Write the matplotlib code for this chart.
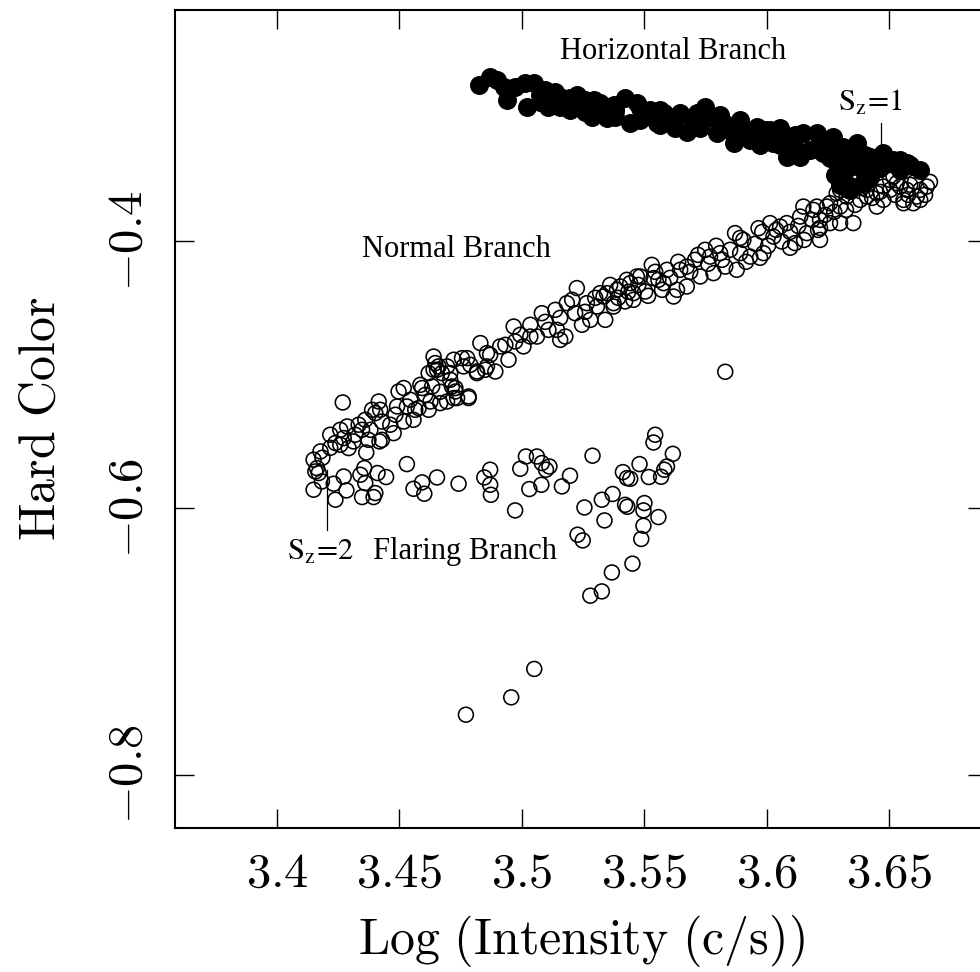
import matplotlib
matplotlib.use("Agg")
import matplotlib.pyplot as plt

plt.rcParams['mathtext.fontset'] = 'cm'

# ---------------- data ----------------
# Horizontal branch (filled circles)
hb_x = [3.4824, 3.4871, 3.4899, 3.4926, 3.4940, 3.4973, 3.5014, 3.5048, 3.5021, 3.5096,
        3.5109, 3.5157, 3.5157, 3.5225, 3.5293, 3.5287, 3.5348, 3.5375, 3.5422, 3.5443,
        3.5470, 3.5524, 3.5552, 3.5579, 3.5647, 3.5674, 3.5701, 3.5715, 3.5769, 3.5824,
        3.5865, 3.5892, 3.5960, 3.6014, 3.6082, 3.6096, 3.6150, 3.6205, 3.6273, 3.6313,
        3.6368, 3.6422, 3.6477, 3.6518, 3.6572, 3.6627, 3.6313, 3.6341, 3.6395, 3.6450,
        3.6504, 3.6368, 3.6422, 3.6395, 3.6232, 3.6177, 3.6137, 3.6028, 3.5933, 3.5797,
        3.5973, 3.5851, 3.6292, 3.6300, 3.6333, 3.5749, 3.5540, 3.5200, 3.5380, 3.5600,
        3.5700, 3.5900, 3.6050, 3.6250, 3.6350, 3.6450, 3.6550,
        3.5076, 3.5076, 3.5137, 3.5137, 3.5198, 3.5198, 3.5259, 3.5259, 3.5320, 3.5320,
        3.5382, 3.5382, 3.5484, 3.5484, 3.5565, 3.5565, 3.5627, 3.5627, 3.5729, 3.5729,
        3.5810, 3.5810, 3.5871, 3.5871, 3.5994, 3.5994, 3.6055, 3.6055, 3.6116, 3.6116,
        3.6218, 3.6218, 3.6259, 3.6259, 3.6341, 3.6341, 3.6402, 3.6402, 3.6463, 3.6463,
        3.6545, 3.6545, 3.6586, 3.6300, 3.6341, 3.6280]
hb_y = [-0.2831, -0.2769, -0.2794, -0.2844, -0.2944, -0.2844, -0.2819, -0.2819, -0.2994, -0.2869,
        -0.2994, -0.2994, -0.2919, -0.2906, -0.2944, -0.3069, -0.3081, -0.2981, -0.2931, -0.3118,
        -0.2969, -0.3019, -0.3118, -0.3043, -0.3043, -0.3181, -0.3094, -0.3043, -0.3069, -0.3118,
        -0.3268, -0.3094, -0.3144, -0.3169, -0.3368, -0.3219, -0.3193, -0.3193, -0.3219, -0.3294,
        -0.3268, -0.3368, -0.3343, -0.3393, -0.3418, -0.3468, -0.3493, -0.3444, -0.3468, -0.3444,
        -0.3418, -0.3368, -0.3518, -0.3568, -0.3343, -0.3318, -0.3368, -0.3268, -0.3243, -0.3193,
        -0.3281, -0.3168, -0.3393, -0.3543, -0.3580, -0.2996, -0.3080, -0.2960, -0.3030, -0.3100,
        -0.3150, -0.3180, -0.3250, -0.3300, -0.3320, -0.3380, -0.3450,
        -0.2906, -0.2959, -0.2884, -0.2981, -0.2929, -0.3019, -0.2944, -0.3034, -0.2966, -0.3041,
        -0.3004, -0.3071, -0.3004, -0.3094, -0.3019, -0.3131, -0.3094, -0.3154, -0.3079, -0.3154,
        -0.3056, -0.3169, -0.3131, -0.3206, -0.3169, -0.3243, -0.3154, -0.3281, -0.3206, -0.3303,
        -0.3243, -0.3318, -0.3281, -0.3378, -0.3318, -0.3393, -0.3356, -0.3431, -0.3393, -0.3453,
        -0.3393, -0.3468, -0.3431, -0.3580, -0.3618, -0.3506]

# Normal branch (open circles)
nb_x = [3.4269, 3.5831,
        3.4218, 3.4239, 3.4259, 3.4273, 3.4287, 3.4293, 3.4334, 3.4348, 3.4382, 3.4389,
        3.4416, 3.4402, 3.4429, 3.4463, 3.4477, 3.4491, 3.4497, 3.4518, 3.4558, 3.4531,
        3.4579, 3.4620, 3.4627, 3.4586, 3.4620, 3.4654, 3.4647, 3.4695, 3.4715, 3.4729,
        3.4736, 3.4783, 3.4762, 3.4817, 3.4858, 3.4667, 3.4429, 3.4374, 3.4313,
        3.4518, 3.4565, 3.4593, 3.4634, 3.4640, 3.4660, 3.4674, 3.4640, 3.4708, 3.4722,
        3.4756, 3.4777, 3.4729, 3.4722, 3.4783, 3.4695, 3.4817, 3.4851, 3.4892, 3.4831,
        3.4858, 3.4912, 3.4946, 3.4967, 3.4973, 3.5007, 3.5035, 3.5062, 3.5082, 3.5109,
        3.5137, 3.5144, 3.5178, 3.5225, 3.5218, 3.5246, 3.5280, 3.5320, 3.5341, 3.5375,
        3.5422, 3.5443, 3.5470, 3.5456, 3.5184, 3.5266, 3.5307, 3.5334, 3.5389,
        3.5348, 3.5375, 3.5402, 3.5429, 3.5456, 3.5484, 3.5504, 3.5531, 3.5558, 3.5593,
        3.5620, 3.5647, 3.5674, 3.5708, 3.5729, 3.5749, 3.5783, 3.5810, 3.5831, 3.5871,
        3.5878, 3.5905, 3.5933, 3.5967, 3.5987, 3.6014, 3.6028, 3.6062, 3.6082, 3.6116,
        3.6137, 3.6164, 3.6191, 3.6218, 3.6246, 3.6259, 3.6286, 3.6300, 3.6327, 3.6354,
        3.6382, 3.6409, 3.6450, 3.6477, 3.6518, 3.6545, 3.6559, 3.6586, 3.6627, 3.6654,
        3.6627, 3.6599, 3.6300, 3.6218, 3.6055, 3.5892, 3.5769, 3.5674, 3.5538, 3.5634,
        3.5579,
        3.6300, 3.6368, 3.6259, 3.6205, 3.6150, 3.6450, 3.6531, 3.6572, 3.6613, 3.6559,
        3.6504, 3.6477, 3.6327, 3.6409, 3.6320, 3.6361, 3.6402,
        3.5361, 3.5394, 3.5435, 3.5476, 3.5516, 3.5545, 3.5573, 3.5606, 3.5639, 3.5688,
        3.5720, 3.5761, 3.5794, 3.5818, 3.5851, 3.5892, 3.5916, 3.5953, 3.5982, 3.6006,
        3.6039, 3.6096, 3.6129, 3.6153, 3.6186, 3.6210, 3.6239, 3.6276, 3.6324, 3.6361,
        3.6390, 3.6431, 3.6463, 3.6504, 3.6524, 3.6578, 3.6606, 3.6647, 3.6667, 3.5973,
        3.6096, 3.6218, 3.5096, 3.5157, 3.5206, 3.5259, 3.5300, 3.5157, 3.5035, 3.4994,
        3.4933, 3.4871, 3.4790, 3.4708, 3.4667, 3.4606, 3.4545, 3.4484, 3.4422, 3.4361,
        3.4320, 3.4259, 3.4218, 3.4186]
nb_y = [-0.5211, -0.4981,
        -0.5453, -0.5515, -0.5416, -0.5478, -0.5391, -0.5553, -0.5378, -0.5416, -0.5416, -0.5266,
        -0.5204, -0.5291, -0.5354, -0.5378, -0.5441, -0.5241, -0.5129, -0.5354, -0.5341, -0.5241,
        -0.5253, -0.5266, -0.5204, -0.5079, -0.4991, -0.4966, -0.4916, -0.4941, -0.5091, -0.5129,
        -0.5178, -0.5178, -0.4941, -0.4991, -0.4941, -0.5216, -0.5491, -0.5491, -0.5503,
        -0.5103, -0.5266, -0.5103, -0.5091, -0.4966, -0.4941, -0.4991, -0.4867, -0.4991, -0.4891,
        -0.4879, -0.4879, -0.5103, -0.5178, -0.5166, -0.5204, -0.4979, -0.4966, -0.4979, -0.4766,
        -0.4841, -0.4791, -0.4891, -0.4642, -0.4754, -0.4791, -0.4717, -0.4717, -0.4542, -0.4667,
        -0.4517, -0.4667, -0.4717, -0.4354, -0.4542, -0.4629, -0.4592, -0.4392, -0.4592, -0.4492,
        -0.4454, -0.4317, -0.4267, -0.4392, -0.4467, -0.4467, -0.4492, -0.4417, -0.4367,
        -0.4392, -0.4467, -0.4342, -0.4292, -0.4442, -0.4267, -0.4380, -0.4180, -0.4292, -0.4217,
        -0.4417, -0.4217, -0.4342, -0.4142, -0.4267, -0.4067, -0.4242, -0.4092, -0.4193, -0.3942,
        -0.4217, -0.3993, -0.4118, -0.3905, -0.4092, -0.3867, -0.3968, -0.4005, -0.3867, -0.4017,
        -0.3818, -0.3942, -0.3768, -0.3993, -0.3743, -0.3867, -0.3643, -0.3743, -0.3618, -0.3867,
        -0.3693, -0.3618, -0.3743, -0.3593, -0.3518, -0.3593, -0.3718, -0.3580, -0.3618, -0.3593,
        -0.3693, -0.3718, -0.3867, -0.3843, -0.3893, -0.4092, -0.4118, -0.4193, -0.4279, -0.4367,
        -0.4317,
        -0.3618, -0.3593, -0.3718, -0.3743, -0.3743, -0.3643, -0.3568, -0.3618, -0.3668, -0.3693,
        -0.3618, -0.3693, -0.3668, -0.3668, -0.3543, -0.3506, -0.3543,
        -0.4330, -0.4427, -0.4382, -0.4330, -0.4412, -0.4232, -0.4367, -0.4277, -0.4157, -0.4232,
        -0.4105, -0.4172, -0.4037, -0.4142, -0.4067, -0.3978, -0.4157, -0.4022, -0.3933, -0.4037,
        -0.3918, -0.3933, -0.3888, -0.3993, -0.3843, -0.3918, -0.3805, -0.3783, -0.3768, -0.3730,
        -0.3603, -0.3678, -0.3633, -0.3543, -0.3655, -0.3655, -0.3558, -0.3655, -0.3558, -0.4127,
        -0.4052, -0.3903, -0.4607, -0.4577, -0.4442, -0.4532, -0.4427, -0.4742, -0.4629, -0.4704,
        -0.4779, -0.4854, -0.4929, -0.5041, -0.5131, -0.5154, -0.5191, -0.5303, -0.5266, -0.5341,
        -0.5453, -0.5528, -0.5551, -0.5625]

# Flaring branch (open circles)
fb_x = [3.5545, 3.5538, 3.5617, 3.5593, 3.5582, 3.5569, 3.5519, 3.5481, 3.5413, 3.5430,
        3.5443, 3.5289, 3.5197, 3.5164, 3.5080, 3.5031, 3.5113, 3.5099, 3.5082, 3.5062,
        3.5017, 3.4994, 3.4973, 3.4871, 3.4847, 3.4871, 3.4874, 3.4742, 3.4654, 3.4593,
        3.4558, 3.4602, 3.4531, 3.5256, 3.5327, 3.5371, 3.5422, 3.5431, 3.5501, 3.5497,
        3.5558, 3.5497, 3.5488, 3.5338, 3.5228, 3.5249, 3.5452, 3.5368, 3.5327, 3.5280,
        3.5051, 3.4957, 3.4772,
        3.4150, 3.4239, 3.4284, 3.4273, 3.4232, 3.4184, 3.4348, 3.4395, 3.4402, 3.4361,
        3.4341, 3.4357, 3.4411, 3.4446, 3.4365, 3.4419,
        3.4157, 3.4164, 3.4171, 3.4150, 3.4178]
fb_y = [-0.5453, -0.5511, -0.5596, -0.5691, -0.5715, -0.5768, -0.5770, -0.5673, -0.5733, -0.5778,
        -0.5783, -0.5610, -0.5760, -0.5840, -0.5828, -0.5860, -0.5691, -0.5715, -0.5665, -0.5616,
        -0.5616, -0.5708, -0.6020, -0.5715, -0.5773, -0.5828, -0.5903, -0.5820, -0.5773, -0.5810,
        -0.5858, -0.5895, -0.5673, -0.5998, -0.5940, -0.5897, -0.5978, -0.5993, -0.5965, -0.6020,
        -0.6070, -0.6135, -0.6234, -0.6095, -0.6202, -0.6245, -0.6419, -0.6485, -0.6627, -0.6659,
        -0.7208, -0.7421, -0.7551,
        -0.5865, -0.5940, -0.5870, -0.5766, -0.5820, -0.5803, -0.5920, -0.5920, -0.5890, -0.5815,
        -0.5753, -0.5703, -0.5740, -0.5770, -0.5586, -0.5503,
        -0.5728, -0.5703, -0.5740, -0.5640, -0.5578]

x_ticks = [3.4, 3.45, 3.5, 3.55, 3.6, 3.65]
y_ticks = [-0.4, -0.6, -0.8]
x_lim = (3.3584, 3.6900)
y_lim = (-0.840, -0.227)

# ---------------- figure ----------------
fig = plt.figure(figsize=(9.8, 9.72), dpi=100)
ax = fig.add_axes([0.17857, 0.14815, 0.8286, 0.84156])

ax.scatter(hb_x, hb_y, s=160, facecolor='black', edgecolor='black', linewidths=1.0, zorder=2)
ax.scatter(nb_x + fb_x, nb_y + fb_y, s=115, facecolor='none', edgecolor='black',
           linewidths=1.15, zorder=3)

ax.set_xlim(*x_lim)
ax.set_ylim(*y_lim)
ax.set_xticks(x_ticks, labels=[f'${t:g}$' for t in x_ticks])
ax.set_yticks(y_ticks, labels=[f'${t:g}$' for t in y_ticks])
ax.minorticks_off()
ax.tick_params(direction='in', length=14, width=1.0, top=True, right=True,
               labelsize=35)
ax.tick_params(axis='x', pad=15)
ax.tick_params(axis='y', pad=17)
for lab in ax.get_yticklabels():
    lab.set_rotation(90)
    lab.set_va('center')
for sp in ax.spines.values():
    sp.set_linewidth(1.5)

ax.set_xlabel(r'$\mathrm{Log\ (Intensity\ (c/s))}$', fontsize=36, labelpad=12)
ax.set_ylabel(r'$\mathrm{Hard\ Color}$', fontsize=36, labelpad=28)

serif = 'Liberation Serif'
ax.text(3.5618, -0.2584, 'Horizontal Branch', family=serif, fontsize=22,
        ha='center', va='center')
ax.text(3.4733, -0.4067, 'Normal Branch', family=serif, fontsize=22,
        ha='center', va='center')
ax.text(3.4769, -0.6330, 'Flaring Branch', family=serif, fontsize=22,
        ha='center', va='center')
ax.text(3.6422, -0.2966, r'$\mathrm{S_z\!=\!1}$', math_fontfamily='stix', fontsize=22,
        ha='center', va='center')
ax.text(3.4178, -0.6330, r'$\mathrm{S_z\!=\!2}$', math_fontfamily='stix', fontsize=22,
        ha='center', va='center')
ax.plot([3.6467, 3.6467], [-0.3116, -0.3303], color='black', lw=0.9)
ax.plot([3.4206, 3.4206], [-0.5715, -0.6165], color='black', lw=0.9)

fig.savefig('out.png', dpi=100)
